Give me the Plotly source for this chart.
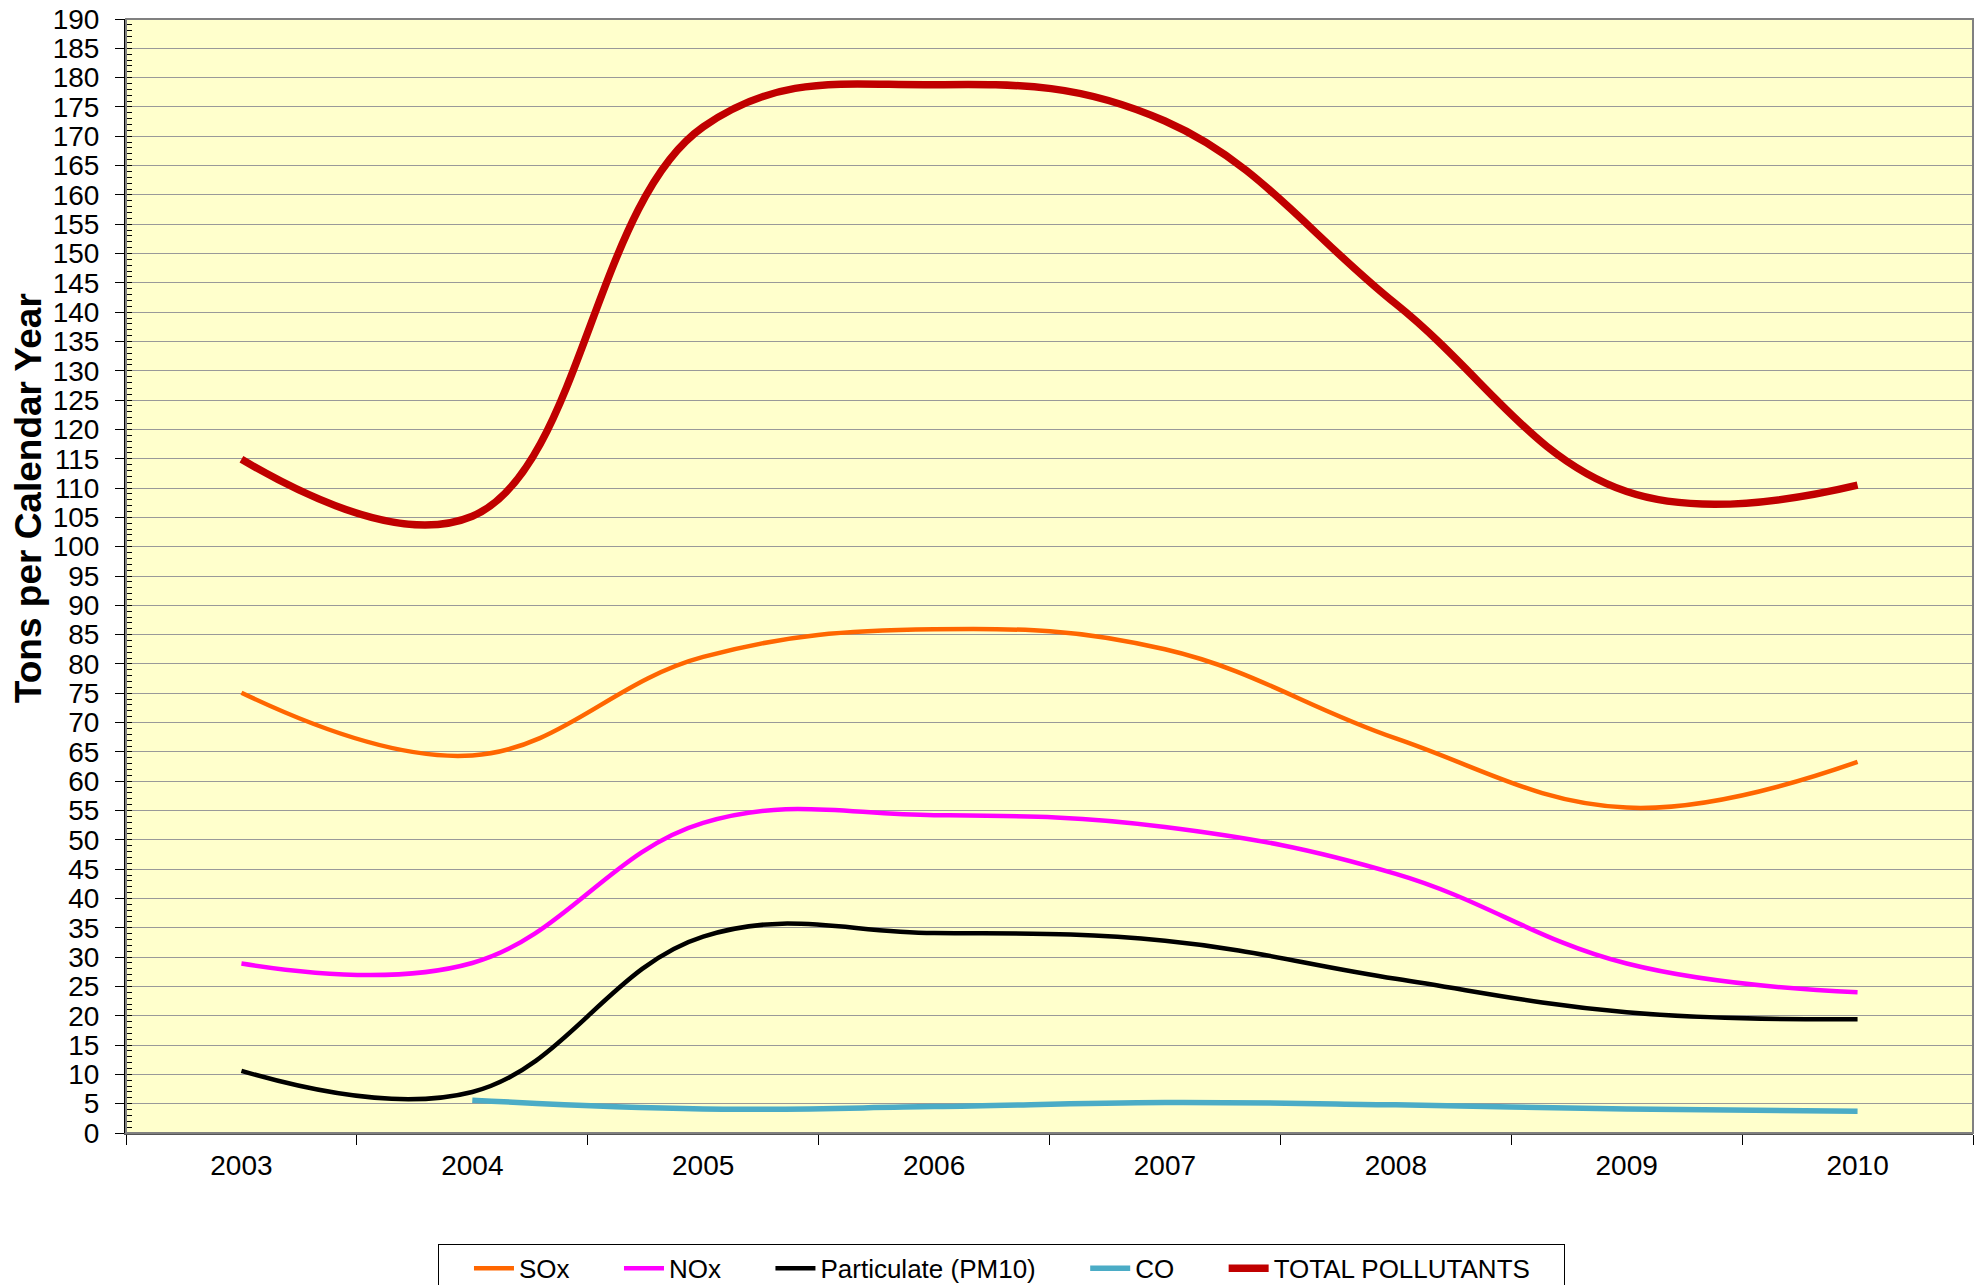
import plotly.graph_objects as go

years = ["2003", "2004", "2005", "2006", "2007", "2008", "2009", "2010"]
sox = [75.1, 64.4, 81.2, 85.9, 82.5, 67.3, 55.5, 63.3]
nox = [28.9, 29.0, 52.9, 54.2, 52.2, 44.2, 28.9, 24.0]
pm10 = [10.6, 7.0, 33.5, 34.1, 32.8, 26.3, 20.6, 19.4]
co = [None, 5.6, 4.1, 4.5, 5.2, 4.8, 4.1, 3.7]
total = [114.9, 105.2, 171.6, 178.8, 172.6, 141.4, 109.4, 110.5]

names = ["SOx", "NOx", "Particulate (PM10)", "CO", "TOTAL POLLUTANTS"]
values = [sox, nox, pm10, co, total]
colors = ["#FF6600", "#FF00FF", "#000000", "#4BACC6", "#C00000"]
widths = [4.5, 4.5, 4.5, 5.5, 7.5]
pads = [2, 2, 2, 2, 4]

fig = go.Figure()
for name, vals, color, w, p in zip(names, values, colors, widths, pads):
    fig.add_trace(go.Scatter(
        x=years, y=vals, name=name + "\u00a0" * p, mode="lines",
        line=dict(color=color, width=w, shape="spline", smoothing=1.15),
        connectgaps=False,
    ))

fig.update_layout(
    width=1986, height=1285,
    margin=dict(l=126, r=13, t=19, b=152, autoexpand=False),
    paper_bgcolor="white",
    plot_bgcolor="#FFFFCC",
    font=dict(family="Liberation Sans, Arial, sans-serif", color="black", size=28),
    showlegend=True,
    legend=dict(
        orientation="h", x=0.474, xanchor="center", y=-0.0996, yanchor="top",
        bordercolor="#000000", borderwidth=1, bgcolor="white",
        font=dict(size=26), itemwidth=40, tracegroupgap=0, indentation=30,
    ),
)

fig.update_xaxes(
    type="category", range=[-0.5, 7.5], tickson="boundaries", automargin=False,
    ticks="outside", ticklen=10, tickcolor="#000000", tickwidth=1,
    showline=True, linecolor="#555555", linewidth=2, mirror=False,
    showgrid=False, tickfont=dict(size=28), ticklabelstandoff=6,
)
fig.update_yaxes(
    range=[0, 190], dtick=5, tick0=0, automargin=False,
    ticks="outside", ticklen=9, tickcolor="#000000", tickwidth=1,
    showline=True, linecolor="#000000", linewidth=2,
    showgrid=True, gridcolor="#999999", gridwidth=1,
    zeroline=False,
    tickfont=dict(size=28), ticklabelstandoff=10,
    minor=dict(dtick=1, ticks="inside", ticklen=6, tickcolor="#000000", showgrid=False),
)

fig.add_annotation(
    text="<b>Tons per Calendar Year</b>", textangle=-90,
    xref="paper", yref="paper", x=-0.053, y=0.570,
    xanchor="center", yanchor="middle", showarrow=False,
    font=dict(size=37, color="black"),
)

# plot area border (top/right)
fig.add_shape(type="rect", xref="paper", yref="paper", x0=0, x1=1, y0=0, y1=1,
              line=dict(color="#808080", width=2), fillcolor="rgba(0,0,0,0)", layer="above")

fig.write_html(
    "out.html",
    config={"displayModeBar": False},
    post_script="document.body.style.margin='0';document.body.style.overflow='hidden';",
)
